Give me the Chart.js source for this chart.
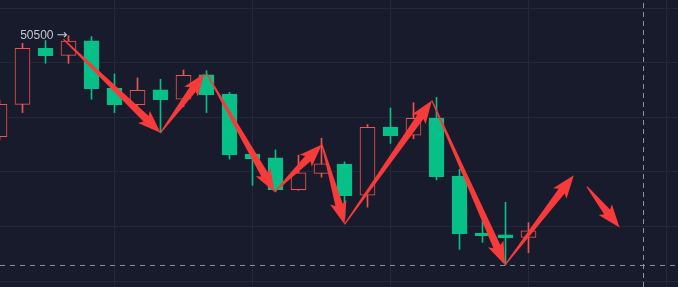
<!DOCTYPE html>
<html>
<head>
<meta charset="utf-8">
<script src="https://cdn.jsdelivr.net/npm/chart.js@4/dist/chart.umd.min.js"></script>
<style>
  html, body { margin: 0; padding: 0; background: #181b2b; }
  #wrap { width: 678px; height: 287px; }
</style>
</head>
<body>
<div id="wrap"><canvas id="velas"></canvas></div>
<script>
// =============== CANDLES + ZIGZAG ===============

// candle values (index 0 = partial candle on the left edge)
const opens  = [50130, 50248, 50454, 50428, 50481, 50308, 50247, 50301, 50267, 50356, 50286, 50066,
                50052, 49935, 49995, 50029, 49915, 50165, 50135, 50198, 49985, 49776, 49769, 49760];
const highs  = [50264, 50472, 50482, 50500, 50497, 50360, 50345, 50340, 50374, 50372, 50292, 50081,
                50081, 50062, 50124, 50037, 50174, 50235, 50254, 50274, 50010, 49818, 49889, 49814];
const lows   = [50117, 50218, 50399, 50399, 50267, 50218, 50244, 50144, 50239, 50218, 50047, 49951,
                49927, 49933, 49981, 49830, 49871, 50105, 50122, 49971, 49716, 49742, 49659, 49704];
const closes = [50248, 50454, 50427, 50480, 50306, 50247, 50300, 50265, 50355, 50284, 50063, 50048,
                49935, 49997, 50030, 49913, 50164, 50133, 50197, 49983, 49774, 49766, 49759, 49784];

// red arrows drawn over the candles (candle index, price)
const arrowFromX = [2.78, 7.0, 9.0, 11.96, 14.02, 15.0, 18.8, 21.98, 25.54];
const arrowFromP = [50487, 50144, 50362, 49927, 50101, 49808, 50262, 49659, 49946];
const arrowToX   = [7.0, 8.92, 11.96, 14.02, 15.0, 18.8, 21.98, 24.97, 26.96];
const arrowToP   = [50144, 50362, 49927, 50101, 49808, 50262, 49659, 49988, 49796];

// price note + crosshair
const labelText = '50500';
const labelArrow = '→';
const labelPrice = 50500;
const labelIndex = 3;
const crossPrice = 49657;
const crossIndex = 28;

// grid
const priceTicks = [50600, 50400, 50200, 50000, 49800, 49600];
const timeTicks = [5, 11, 17, 23, 29];

const corFundo = '#181b2b';
const corAlta = '#ef5350';
const corBaixa = '#06c088';
const corSeta = '#f73b3b';
const corGrade = '#242838';
const corCruz = 'rgba(149,152,161,0.95)';

const xMin = 0.0217, xMax = 29.5;
const yMin = 49578, yMax = 50631;

function isUp(i) {
  return closes[i] >= opens[i];
}

// tapered arrow, thin at the tail and wide at the head
function desenharSeta(ctx, x0, y0, x1, y1) {
  const dx = x1 - x0, dy = y1 - y0;
  const len = Math.hypot(dx, dy);
  const ux = dx / len, uy = dy / len;
  const nx = -uy, ny = ux;
  const head = Math.min(20, len * 0.4);
  const bx = x1 - ux * head, by = y1 - uy * head;
  const tail = 0.6, shaft = 3.8, wing = 8.5;

  ctx.beginPath();
  ctx.moveTo(x0 + nx * tail, y0 + ny * tail);
  ctx.lineTo(bx + nx * shaft, by + ny * shaft);
  ctx.lineTo(bx - ux * 3 + nx * wing, by - uy * 3 + ny * wing);
  ctx.lineTo(x1, y1);
  ctx.lineTo(bx - ux * 3 - nx * wing, by - uy * 3 - ny * wing);
  ctx.lineTo(bx - nx * shaft, by - ny * shaft);
  ctx.lineTo(x0 - nx * tail, y0 - ny * tail);
  ctx.closePath();
  ctx.fill();
}

const desenhosPlugin = {
  id: 'desenhos',
  beforeDraw(chart) {
    const { ctx, width, height } = chart;
    ctx.save();
    ctx.fillStyle = corFundo;
    ctx.fillRect(0, 0, width, height);
    ctx.restore();
  },
  afterDatasetsDraw(chart) {
    const { ctx, scales: { x, y } } = chart;
    ctx.save();
    ctx.fillStyle = corSeta;
    for (let k = 0; k < arrowFromX.length; k++) {
      desenharSeta(ctx,
        x.getPixelForValue(arrowFromX[k]), y.getPixelForValue(arrowFromP[k]),
        x.getPixelForValue(arrowToX[k]), y.getPixelForValue(arrowToP[k]));
    }

    // price note
    const lx = x.getPixelForValue(labelIndex);
    const ly = y.getPixelForValue(labelPrice);
    ctx.fillStyle = '#c3c6d1';
    ctx.textBaseline = 'middle';
    ctx.textAlign = 'right';
    ctx.font = '12px "Liberation Sans", Arial, sans-serif';
    ctx.fillText(labelText, lx - 15, ly);
    ctx.textAlign = 'left';
    ctx.font = '13px "DejaVu Sans", sans-serif';
    ctx.fillText(labelArrow, lx - 12, ly);
    ctx.restore();
  }
};

const ctx = document.getElementById('velas');

new Chart(ctx, {
  type: 'bar',
  data: {
    datasets: [
      {
        // wicks
        data: highs.map((h, i) => ({ x: i, y: [lows[i], h] })),
        backgroundColor: highs.map((h, i) => isUp(i) ? corAlta : corBaixa),
        barThickness: 1,
        grouped: false,
        order: 3
      },
      {
        // bodies
        data: opens.map((o, i) => ({ x: i, y: [o, closes[i]] })),
        backgroundColor: opens.map((o, i) => isUp(i) ? corFundo : corBaixa),
        borderColor: opens.map((o, i) => isUp(i) ? corAlta : corBaixa),
        borderWidth: 1,
        borderSkipped: false,
        barThickness: 15,
        grouped: false,
        order: 2
      },
      {
        type: 'line',
        data: [{ x: xMin, y: crossPrice }, { x: xMax, y: crossPrice }],
        borderColor: corCruz,
        borderWidth: 1,
        borderDash: [5, 5],
        pointRadius: 0,
        order: 1
      },
      {
        type: 'line',
        data: [{ x: crossIndex, y: yMin }, { x: crossIndex, y: yMax }],
        borderColor: corCruz,
        borderWidth: 1,
        borderDash: [5, 4],
        pointRadius: 0,
        order: 1
      }
    ]
  },
  options: {
    responsive: true,
    maintainAspectRatio: false,
    animation: false,
    layout: { padding: 0 },
    plugins: { legend: { display: false }, tooltip: { enabled: false } },
    scales: {
      x: {
        type: 'linear',
        min: xMin,
        max: xMax,
        offset: false,
        afterBuildTicks: (scale) => { scale.ticks = timeTicks.map(v => ({ value: v })); },
        ticks: { display: false },
        grid: { color: corGrade, drawTicks: false, offset: false },
        border: { display: false }
      },
      y: {
        min: yMin,
        max: yMax,
        afterBuildTicks: (scale) => { scale.ticks = priceTicks.map(v => ({ value: v })); },
        ticks: { display: false },
        grid: { color: corGrade, drawTicks: false },
        border: { display: false }
      }
    }
  },
  plugins: [desenhosPlugin]
});
</script>
</body>
</html>
